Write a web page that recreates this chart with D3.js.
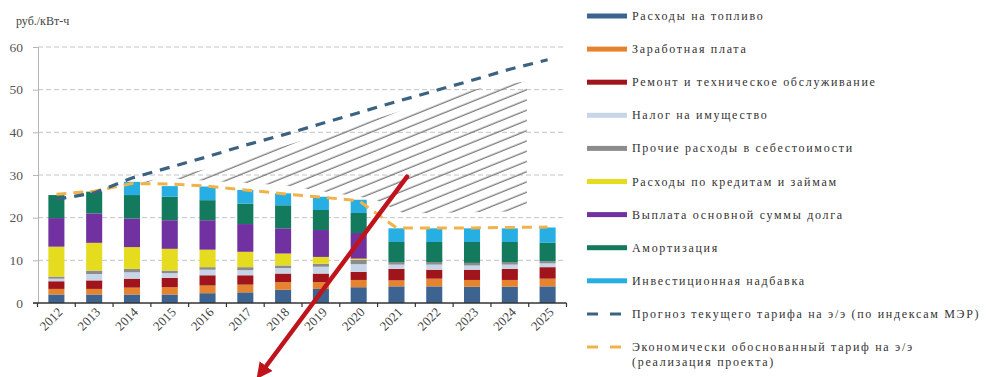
<!DOCTYPE html>
<html>
<head>
<meta charset="utf-8">
<script src="https://cdn.jsdelivr.net/npm/d3@7/dist/d3.min.js"></script>
<style>
  body { margin: 0; background: #fff; }
  svg { display: block; }
  text { font-family: "Liberation Serif", "Times New Roman", "DejaVu Serif", serif; }
</style>
</head>
<body>
<div id="chart"></div>
<script>
// ---- data (руб./кВт-ч) ----
var years = ["2012","2013","2014","2015","2016","2017","2018","2019","2020","2021","2022","2023","2024","2025"];

var fuel      = [2.0, 2.0, 2.0, 2.0, 2.3, 2.5, 3.1, 3.3, 3.7, 3.9, 3.9, 3.8, 3.8, 3.9];
var salary    = [1.3, 1.3, 1.6, 1.7, 1.8, 1.8, 1.8, 1.6, 1.7, 1.4, 1.8, 1.6, 1.6, 1.8];
var repair    = [1.8, 2.0, 2.1, 2.2, 2.4, 2.2, 2.0, 2.0, 1.9, 2.7, 2.1, 2.4, 2.6, 2.7];
var propTax   = [0.6, 1.5, 1.5, 1.1, 1.3, 1.2, 1.3, 1.6, 1.8, 1.0, 1.2, 1.0, 1.0, 0.9];
var otherCost = [0.5, 0.8, 0.8, 0.6, 0.6, 0.7, 0.6, 0.7, 1.0, 0.6, 0.6, 0.6, 0.6, 0.5];
var credit    = [7.0, 6.5, 5.1, 5.1, 4.1, 3.6, 2.8, 1.6, 0.3, 0, 0, 0, 0, 0];
var principal = [6.7, 6.9, 6.7, 6.7, 6.9, 6.5, 5.9, 6.3, 6.0, 0, 0, 0, 0, 0];
var amort     = [5.4, 5.1, 5.5, 5.5, 4.7, 4.8, 5.4, 4.7, 4.7, 4.7, 4.7, 4.9, 4.7, 4.3];
var invest    = [0, 0, 3.1, 2.5, 3.2, 3.2, 2.8, 3.1, 3.1, 3.2, 3.2, 3.2, 3.2, 3.6];

var tariffForecast = [24.3, 25.8, 29.3, 31.8, 34.3, 37.0, 39.4, 42.0, 44.6, 47.2, 49.7, 52.2, 54.8, 57.0];
var tariffProject  = [25.5, 26.2, 28.0, 27.9, 27.4, 26.5, 25.6, 24.8, 24.0, 17.6, 17.6, 17.6, 17.7, 17.8];

var seriesKeys = ["fuel","salary","repair","propTax","otherCost","credit","principal","amort","invest"];
var seriesValues = [fuel, salary, repair, propTax, otherCost, credit, principal, amort, invest];
var seriesNames = [
  "Расходы на топливо",
  "Заработная плата",
  "Ремонт и техническое обслуживание",
  "Налог на имущество",
  "Прочие расходы в себестоимости",
  "Расходы по кредитам и займам",
  "Выплата основной суммы долга",
  "Амортизация",
  "Инвестиционная надбавка"
];
var seriesColors = ["#3d6491","#e5832f","#a0151b","#c6d5e8","#8c8c8c","#e6dc1f","#7131a1","#147a5d","#27aee2"];

var lineNames = [
  "Прогноз текущего тарифа на э/э (по индексам МЭР)",
  "Экономически обоснованный тариф на э/э (реализация проекта)"
];
var lineColors = ["#3c6282", "#f2b24a"];

var yTicks = [0, 10, 20, 30, 40, 50, 60];
var yTitle = "руб./кВт-ч";

// hatched zone between the two tariffs, [year index, value]
var hatchZone = [[1.3,26.6],[4,31.4],[8,42],[11,50],[12.45,52],[12.45,21.5],[9.2,21],[8.4,24.4],[6,27.6],[3,29.2]];
// red arrow annotation, [year index, value]
var arrowFrom = [9.28, 29.6];
var arrowTo = [5.45, -16.0];

// ---- layout ----
var W = 988, H = 377;
var serif = "'Liberation Serif', 'Times New Roman', 'DejaVu Serif', serif";
var svg = d3.select("#chart").append("svg")
  .attr("width", W).attr("height", H);

var x = d3.scaleBand().domain(years)
  .range([37.5, 566.5])
  .paddingInner(0.575).paddingOuter(0.2875);
var y = d3.scaleLinear().domain([0, 60]).range([303, 47]);
var xi = d3.scaleLinear().domain([0, years.length - 1])
  .range([x(years[0]) + x.bandwidth()/2, x(years[years.length-1]) + x.bandwidth()/2]);

var rows = years.map(function(yr, i) {
  var r = {year: yr};
  seriesKeys.forEach(function(k, j) { r[k] = seriesValues[j][i]; });
  return r;
});
var stacked = d3.stack().keys(seriesKeys)(rows);

// gridlines
svg.append("g").selectAll("line")
  .data(yTicks.filter(function(d){ return d > 0; }))
  .enter().append("line")
  .attr("x1", 38).attr("x2", 566)
  .attr("y1", function(d){ return y(d); }).attr("y2", function(d){ return y(d); })
  .attr("stroke", "#c4c4c4").attr("stroke-width", 1)
  .attr("stroke-dasharray", "5,3");

// y axis
var yAxis = svg.append("g").attr("transform", "translate(38,0)")
  .call(d3.axisLeft(y).tickValues(yTicks).tickSize(5).tickPadding(10));
yAxis.attr("font-family", serif);
yAxis.select(".domain").attr("stroke", "#b5b5b5");
yAxis.selectAll(".tick line").attr("stroke", "#b5b5b5");
yAxis.selectAll("text").attr("font-size", 13.5).attr("fill", "#555");

svg.append("text").attr("x", 16).attr("y", 25)
  .attr("font-size", 12).attr("fill", "#444").text(yTitle);

// hatched zone
var defs = svg.append("defs");
var pat = defs.append("pattern").attr("id", "hatch")
  .attr("patternUnits", "userSpaceOnUse").attr("width", 10).attr("height", 9.5)
  .attr("patternTransform", "rotate(-22)");
pat.append("line").attr("x1", 0).attr("y1", 5).attr("x2", 10).attr("y2", 5)
  .attr("stroke", "#6e6e6e").attr("stroke-width", 1.2);
var zoneLine = d3.line().x(function(d){ return xi(d[0]); }).y(function(d){ return y(d[1]); });
svg.append("path").attr("d", zoneLine(hatchZone) + "Z").attr("fill", "url(#hatch)");

// stacked bars
svg.append("g").selectAll("g").data(stacked).enter().append("g")
  .attr("fill", function(d, i){ return seriesColors[i]; })
  .selectAll("rect").data(function(d){ return d; }).enter().append("rect")
  .attr("x", function(d){ return x(d.data.year); })
  .attr("width", x.bandwidth())
  .attr("y", function(d){ return y(d[1]); })
  .attr("height", function(d){ return Math.max(0, y(d[0]) - y(d[1])); });

// x axis
svg.append("line").attr("x1", 33).attr("x2", 566.5).attr("y1", 303).attr("y2", 303)
  .attr("stroke", "#333").attr("stroke-width", 1.5);
svg.append("g").selectAll("line").data(years.concat(["end"])).enter().append("line")
  .attr("x1", function(d, i){ return x.range()[0] + i * x.step(); })
  .attr("x2", function(d, i){ return x.range()[0] + i * x.step(); })
  .attr("y1", 303).attr("y2", 307).attr("stroke", "#333").attr("stroke-width", 1.2);
svg.append("g").selectAll("text").data(years).enter().append("text")
  .attr("transform", function(d){ return "translate(" + (x(d) + x.bandwidth()/2 + 7) + ",313) rotate(-45)"; })
  .attr("text-anchor", "end").attr("font-size", 13).attr("fill", "#444")
  .text(function(d){ return d; });

// tariff lines
var tLine = d3.line().x(function(d, i){ return xi(i); }).y(function(d){ return y(d); });
svg.append("path").attr("d", tLine(tariffProject)).attr("fill", "none")
  .attr("stroke", lineColors[1]).attr("stroke-width", 3).attr("stroke-dasharray", "10,7");
svg.append("path").attr("d", tLine(tariffForecast)).attr("fill", "none")
  .attr("stroke", lineColors[0]).attr("stroke-width", 3.2).attr("stroke-dasharray", "10,8");

// red arrow
defs.append("marker").attr("id", "arrowhead").attr("viewBox", "0 0 10 10")
  .attr("refX", 4).attr("refY", 5).attr("markerWidth", 3.6).attr("markerHeight", 3.6)
  .attr("orient", "auto")
  .append("path").attr("d", "M0,0 L10,5 L0,10 Z").attr("fill", "#c0141c");
svg.append("line")
  .attr("x1", xi(arrowFrom[0])).attr("y1", y(arrowFrom[1]))
  .attr("x2", xi(arrowTo[0])).attr("y2", y(arrowTo[1]))
  .attr("stroke", "#c0141c").attr("stroke-width", 4.5).attr("stroke-linecap", "round")
  .attr("marker-end", "url(#arrowhead)");

// legend
var legend = svg.append("g").attr("transform", "translate(587,16)");
var lg = legend.selectAll("g").data(seriesNames.concat(lineNames)).enter().append("g")
  .attr("transform", function(d, i){ return "translate(0," + (i * 33.1) + ")"; });
lg.each(function(d, i) {
  var g = d3.select(this);
  if (i < seriesNames.length) {
    g.append("rect").attr("x", 0).attr("y", -2.5).attr("width", 40).attr("height", 5)
      .attr("fill", seriesColors[i]);
  } else {
    g.append("line").attr("x1", 0).attr("x2", 40).attr("y1", 0).attr("y2", 0)
      .attr("stroke", lineColors[i - seriesNames.length]).attr("stroke-width", 3)
      .attr("stroke-dasharray", "11,12");
  }
  var t = g.append("text").attr("x", 45).attr("y", 4)
    .attr("font-family", serif)
    .attr("font-size", 12).attr("fill", "#333").attr("letter-spacing", "1.7px");
  if (i === seriesNames.length + 1) {
    t.append("tspan").attr("x", 45).text("Экономически обоснованный тариф на э/э");
    t.append("tspan").attr("x", 45).attr("dy", 15).text("(реализация проекта)");
  } else {
    t.text(d);
  }
});
</script>
</body>
</html>
